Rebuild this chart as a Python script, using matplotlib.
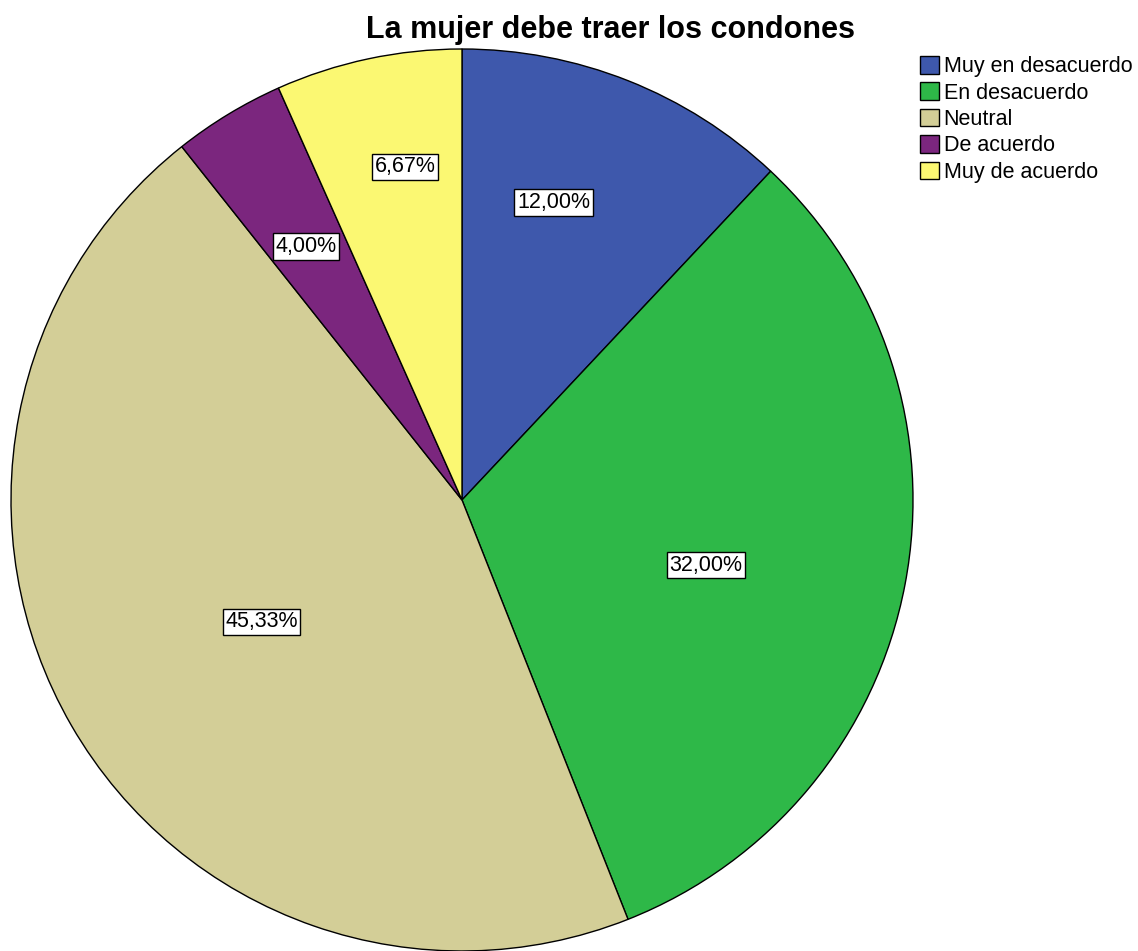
import matplotlib
matplotlib.use("Agg")
import numpy as np
import matplotlib.pyplot as plt
import matplotlib.patches as mpatches

plt.rcParams["font.family"] = ["Liberation Sans", "DejaVu Sans"]

# ── Data ──────────────────────────────────────────────────────────────
TITLE = "La mujer debe traer los condones"
CATEGORIES = ["Muy en desacuerdo", "En desacuerdo", "Neutral",
              "De acuerdo", "Muy de acuerdo"]
PERCENTS = [12.00, 32.00, 45.33, 4.00, 6.67]

# ── Style ─────────────────────────────────────────────────────────────
COLORS = ["#3E58AC", "#2EB848", "#D3CE97", "#7B267E", "#FBF872"]
LABEL_RADIUS = [0.69, 0.56, 0.52, 0.66, 0.75]
LABEL_ANGLE_SHIFT = [4.5, -4.2, 1.3, 0.4, -2.3]   # degrees, counter-clockwise


def fmt_pct(v):
    return f"{v:.2f}%".replace(".", ",")


fig = plt.figure(figsize=(11.38, 9.51), dpi=100)
ax = fig.add_axes([11 / 1138, 0.0, 902 / 1138, 902 / 951])

wedges, _ = ax.pie(PERCENTS, colors=COLORS, startangle=90, counterclock=False,
                   radius=1.0, wedgeprops=dict(edgecolor="black", linewidth=1.0))
ax.set_xlim(-1, 1)
ax.set_ylim(-1, 1)
ax.set_aspect("equal")
ax.axis("off")

for w, v, r, shift in zip(wedges, PERCENTS, LABEL_RADIUS, LABEL_ANGLE_SHIFT):
    mid = np.deg2rad((w.theta1 + w.theta2) / 2 + shift)
    ax.text(r * np.cos(mid), r * np.sin(mid), fmt_pct(v),
            ha="center", va="center", fontsize=15.5,
            bbox=dict(boxstyle="square,pad=0.12", fc="white", ec="black", lw=1.0))

fig.text(610 / 1138, 1 - 30 / 951, TITLE, ha="center", va="center",
         fontsize=22, fontweight="bold")

handles = [mpatches.Patch(facecolor=c, edgecolor="black", linewidth=1.0, label=n)
           for c, n in zip(COLORS, CATEGORIES)]
fig.legend(handles=handles, loc="upper left", bbox_to_anchor=(920 / 1138, 1 - 56 / 951),
           frameon=False, fontsize=15.5, handlelength=0.88, handleheight=0.88,
           handletextpad=0.22, labelspacing=0.24, borderaxespad=0, borderpad=0.0)

fig.savefig("out.png", dpi=100)
